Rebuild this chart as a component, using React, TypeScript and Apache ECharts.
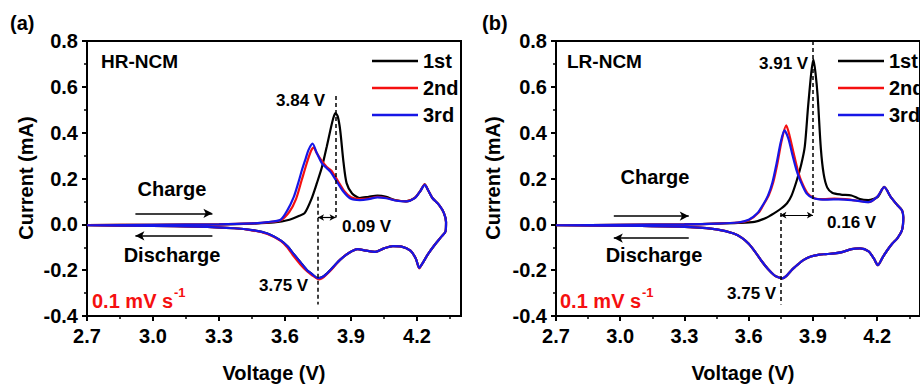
import { useEffect, useRef } from 'react';
import * as echarts from 'echarts';

type P = [number, number];

const X_MAJOR = [2.7, 3.0, 3.3, 3.6, 3.9, 4.2];
const X_MINOR = [2.85, 3.15, 3.45, 3.75, 4.05, 4.35];
const CYCLES = ['1st', '2nd', '3rd'];
const COLORS = ['#000000', '#f51010', '#1616e6'];

// Panel (a) HR-NCM
const HR_DIS: P[] = [
  [4.33, -0.03], [4.31, -0.055], [4.28, -0.09], [4.25, -0.13], [4.225, -0.17], [4.21, -0.19],
  [4.195, -0.15], [4.17, -0.115], [4.13, -0.097], [4.09, -0.095], [4.05, -0.105], [4.01, -0.12],
  [3.97, -0.115], [3.93, -0.108], [3.89, -0.125], [3.85, -0.155], [3.82, -0.185], [3.79, -0.215],
  [3.77, -0.23], [3.75, -0.235], [3.72, -0.215], [3.7, -0.2], [3.67, -0.165], [3.64, -0.13],
  [3.61, -0.095], [3.58, -0.07], [3.52, -0.04], [3.45, -0.025], [3.37, -0.017], [3.2, -0.01],
  [3.0, -0.007], [2.7, -0.004],
];
const HR_1ST: P[] = [
  [2.7, -0.003], [3.0, -0.002], [3.3, 0.0], [3.45, 0.003], [3.55, 0.008], [3.62, 0.02], [3.66, 0.035],
  [3.69, 0.05], [3.72, 0.11], [3.745, 0.18], [3.768, 0.25], [3.79, 0.34], [3.806, 0.41], [3.82, 0.465],
  [3.83, 0.485], [3.84, 0.47], [3.851, 0.41], [3.866, 0.27], [3.88, 0.18], [3.905, 0.135], [3.94, 0.115],
  [3.98, 0.12], [4.02, 0.125], [4.06, 0.12], [4.1, 0.106], [4.15, 0.1], [4.19, 0.115], [4.215, 0.145],
  [4.235, 0.175], [4.25, 0.15], [4.27, 0.115], [4.3, 0.085], [4.322, 0.05], [4.332, 0.01],
  ...HR_DIS,
];
const HR_2ND: P[] = [
  [2.7, -0.003], [3.0, -0.002], [3.3, 0.0], [3.45, 0.004], [3.53, 0.01], [3.58, 0.018], [3.62, 0.055],
  [3.65, 0.11], [3.675, 0.19], [3.7, 0.27], [3.718, 0.32], [3.73, 0.335], [3.745, 0.31], [3.765, 0.28],
  [3.79, 0.25], [3.81, 0.235], [3.84, 0.19], [3.87, 0.145], [3.9, 0.118], [3.94, 0.11], [3.98, 0.112],
  [4.02, 0.12], [4.06, 0.115], [4.1, 0.105], [4.15, 0.1], [4.19, 0.115], [4.215, 0.145], [4.235, 0.175],
  [4.25, 0.15], [4.27, 0.115], [4.3, 0.085], [4.322, 0.05], [4.332, 0.01],
  [4.33, -0.03], [4.31, -0.055], [4.28, -0.09], [4.25, -0.13], [4.225, -0.17], [4.21, -0.192],
  [4.195, -0.15], [4.17, -0.115], [4.13, -0.097], [4.09, -0.095], [4.05, -0.105], [4.01, -0.12],
  [3.97, -0.115], [3.93, -0.108], [3.89, -0.125], [3.85, -0.155], [3.82, -0.188], [3.79, -0.218],
  [3.77, -0.235], [3.755, -0.24], [3.72, -0.22], [3.7, -0.205], [3.67, -0.175], [3.64, -0.14],
  [3.61, -0.1], [3.58, -0.072], [3.52, -0.042], [3.45, -0.026], [3.37, -0.017], [3.2, -0.01],
  [3.0, -0.007], [2.7, -0.004],
];
const HR_3RD: P[] = [
  [2.7, -0.004], [3.0, -0.002], [3.3, 0.0], [3.45, 0.004], [3.52, 0.01], [3.58, 0.02], [3.61, 0.06],
  [3.64, 0.12], [3.66, 0.18], [3.677, 0.237], [3.695, 0.29], [3.707, 0.325], [3.725, 0.352],
  [3.745, 0.31], [3.768, 0.266], [3.79, 0.245], [3.806, 0.23], [3.836, 0.186], [3.866, 0.142],
  [3.897, 0.113], [3.94, 0.106], [3.98, 0.11], [4.02, 0.118], [4.06, 0.114], [4.1, 0.104], [4.15, 0.1],
  [4.19, 0.114], [4.215, 0.145], [4.235, 0.172], [4.25, 0.15], [4.27, 0.115], [4.3, 0.085],
  [4.322, 0.05], [4.332, 0.01],
  ...HR_DIS,
];

// Panel (b) LR-NCM
const LR_DIS: P[] = [
  [4.316, -0.025], [4.294, -0.061], [4.27, -0.085], [4.248, -0.112], [4.225, -0.145], [4.203, -0.178],
  [4.185, -0.15], [4.16, -0.118], [4.12, -0.105], [4.08, -0.108], [4.04, -0.12], [4.0, -0.127],
  [3.96, -0.13], [3.93, -0.132], [3.89, -0.14], [3.855, -0.156], [3.83, -0.175], [3.8, -0.2],
  [3.775, -0.226], [3.756, -0.236], [3.735, -0.23], [3.718, -0.221], [3.69, -0.195], [3.66, -0.16],
  [3.63, -0.12], [3.6, -0.085], [3.57, -0.06], [3.53, -0.04], [3.45, -0.022], [3.35, -0.013],
  [3.1, -0.007], [2.7, -0.004],
];
const LR_1ST: P[] = [
  [2.7, -0.004], [3.0, -0.002], [3.3, 0.0], [3.45, 0.003], [3.55, 0.006], [3.627, 0.011], [3.68, 0.028],
  [3.718, 0.048], [3.75, 0.068], [3.779, 0.092], [3.8, 0.125], [3.824, 0.19], [3.845, 0.26],
  [3.862, 0.34], [3.877, 0.51], [3.892, 0.66], [3.902, 0.72], [3.912, 0.66], [3.922, 0.56],
  [3.937, 0.33], [3.95, 0.22], [3.967, 0.16], [3.99, 0.138], [4.03, 0.13], [4.08, 0.126], [4.12, 0.11],
  [4.158, 0.106], [4.203, 0.12], [4.233, 0.164], [4.263, 0.12], [4.294, 0.084], [4.316, 0.062],
  [4.322, 0.03],
  ...LR_DIS,
];
const LR_2ND: P[] = [
  [2.7, -0.004], [3.0, -0.002], [3.3, 0.0], [3.45, 0.003], [3.55, 0.008], [3.6, 0.018], [3.645, 0.05],
  [3.675, 0.095], [3.695, 0.13], [3.715, 0.185], [3.735, 0.27], [3.755, 0.37], [3.775, 0.432],
  [3.79, 0.39], [3.81, 0.31], [3.828, 0.24], [3.845, 0.19], [3.875, 0.135], [3.91, 0.113], [3.95, 0.11],
  [4.0, 0.112], [4.05, 0.11], [4.1, 0.104], [4.158, 0.097], [4.2, 0.12], [4.233, 0.162], [4.263, 0.12],
  [4.294, 0.084], [4.316, 0.06], [4.322, 0.03],
  ...LR_DIS,
];
const LR_3RD: P[] = [
  [2.7, -0.004], [3.0, -0.002], [3.3, 0.0], [3.45, 0.003], [3.55, 0.008], [3.6, 0.02], [3.64, 0.048],
  [3.67, 0.09], [3.69, 0.125], [3.71, 0.18], [3.73, 0.265], [3.75, 0.36], [3.767, 0.41], [3.785, 0.375],
  [3.805, 0.3], [3.822, 0.24], [3.84, 0.193], [3.87, 0.135], [3.9, 0.115], [3.93, 0.109], [3.97, 0.108],
  [4.02, 0.109], [4.08, 0.106], [4.158, 0.097], [4.2, 0.12], [4.233, 0.162], [4.263, 0.12],
  [4.294, 0.084], [4.316, 0.06], [4.322, 0.03],
  ...LR_DIS,
];

const PANEL_DATA = [
  [HR_1ST, HR_2ND, HR_3RD],
  [LR_1ST, LR_2ND, LR_3RD],
];

// annotation positions in data units (V, mA)
const PEAK_V = [3.83, 3.9];
const PEAK_TOP = [0.56, 0.8];
const SPLIT_Y = [0.03, 0.04];
const VALLEY_V = [3.75, 3.748];
const VALLEY_TOP = [0.12, 0.05];
const ARROW_V = [[2.92, 3.27], [2.97, 3.32]];
const ARROW_I = [[0.048, -0.05], [0.036, -0.06]];

const FONT = 'Arial, "Liberation Sans", Helvetica, sans-serif';

export default function App() {
  const ref = useRef<HTMLDivElement>(null);
  useEffect(() => {
    if (!ref.current) return;
    const chart = echarts.init(ref.current, null, { renderer: 'svg' });

    const grids = [
      { left: 87, top: 41, width: 374, height: 275 },
      { left: 556, top: 41, width: 374, height: 275 },
    ].map((g) => ({ ...g, show: true, borderColor: '#000', borderWidth: 2, backgroundColor: 'transparent' }));

    const xAxes: any[] = [];
    const yAxes: any[] = [];
    const series: any[] = [];
    const labelStyle = { fontSize: 20, fontWeight: 'bold', color: '#000', fontFamily: FONT };

    [0, 1].forEach((p) => {
      xAxes.push({
        type: 'value', gridIndex: p, position: 'bottom', min: 2.7, max: 4.4, interval: 0.3,
        axisLine: { show: true, onZero: false, lineStyle: { color: '#000', width: 2 } },
        axisTick: { show: true, inside: false, length: 5, customValues: X_MAJOR, lineStyle: { color: '#000', width: 2 } },
        axisLabel: { ...labelStyle, customValues: X_MAJOR, margin: 10, formatter: (v: number) => v.toFixed(1) },
        splitLine: { show: false },
      });
      xAxes.push({
        type: 'value', gridIndex: p, position: 'bottom', min: 2.7, max: 4.4, interval: 0.3,
        axisLine: { show: false, onZero: false },
        axisTick: { show: true, inside: false, length: 3, customValues: X_MINOR, lineStyle: { color: '#000', width: 1.5 } },
        axisLabel: { show: false },
        splitLine: { show: false },
      });
      yAxes.push({
        type: 'value', gridIndex: p, min: -0.4, max: 0.8, interval: 0.2,
        axisLine: { show: true, onZero: false, lineStyle: { color: '#000', width: 2 } },
        axisTick: { show: true, inside: false, length: 5, lineStyle: { color: '#000', width: 2 } },
        minorTick: { show: true, splitNumber: 2, length: 3, lineStyle: { color: '#000', width: 1.5 } },
        axisLabel: { ...labelStyle, margin: 9, formatter: (v: number) => v.toFixed(1) },
        splitLine: { show: false },
      });

      PANEL_DATA[p].forEach((data, i) => {
        series.push({
          type: 'line', name: CYCLES[i], xAxisIndex: 2 * p, yAxisIndex: p, data,
          symbol: 'none', smooth: 0.25, lineStyle: { color: COLORS[i], width: 2.2 },
          itemStyle: { color: COLORS[i] }, z: 2 + i,
        });
      });

      const helper = (markLine: any) => ({
        type: 'line', xAxisIndex: 2 * p, yAxisIndex: p, data: [[2.7, 0]], symbol: 'none',
        lineStyle: { opacity: 0 }, silent: true, z: 10, markLine: { silent: true, label: { show: false }, ...markLine },
      });
      series.push(helper({
        symbol: ['none', 'none'],
        lineStyle: { color: '#000', width: 1.5, type: [4, 3] },
        data: [
          [{ coord: [PEAK_V[p], PEAK_TOP[p]] }, { coord: [PEAK_V[p], SPLIT_Y[p]] }],
          [{ coord: [VALLEY_V[p], VALLEY_TOP[p]] }, { coord: [VALLEY_V[p], -0.35] }],
        ],
      }));
      series.push(helper({
        symbol: ['arrow', 'arrow'], symbolSize: [5, 6],
        lineStyle: { color: '#000', width: 1.2, type: 'solid' },
        data: [[{ coord: [VALLEY_V[p], SPLIT_Y[p]] }, { coord: [PEAK_V[p], SPLIT_Y[p]] }]],
      }));
      series.push(helper({
        symbol: ['none', 'arrow'], symbolSize: [7, 9],
        lineStyle: { color: '#000', width: 1.5, type: 'solid' },
        data: [
          [{ coord: [ARROW_V[p][0], ARROW_I[p][0]] }, { coord: [ARROW_V[p][1], ARROW_I[p][0]] }],
          [{ coord: [ARROW_V[p][1], ARROW_I[p][1]] }, { coord: [ARROW_V[p][0], ARROW_I[p][1]] }],
        ],
      }));
    });

    const legends = [367, 833].map((left) => ({
      left, top: 46, orient: 'vertical', itemWidth: 46, itemHeight: 2.5, itemGap: 7, icon: 'rect',
      data: CYCLES, selectedMode: false,
      textStyle: { fontSize: 20, fontWeight: 'bold', color: '#000', fontFamily: FONT, lineHeight: 20 },
    }));

    const txt = (x: number, y: number, text: string, size = 20, extra: any = {}, color = '#000') => ({
      type: 'text', x, y, silent: true, z: 20, ...extra,
      style: { text, fill: color, font: `bold ${size}px ${FONT}`, align: 'left', verticalAlign: 'middle', ...(extra.style || {}) },
    });
    const center = { style: { align: 'center' } };
    const rot = { rotation: Math.PI / 2, style: { align: 'center' } };

    const graphic = [
      txt(10, 23, '(a)', 20),
      txt(482, 23, '(b)', 20),
      txt(26, 178, 'Current (mA)', 20, rot),
      txt(493, 178, 'Current (mA)', 20, rot),
      txt(274, 373, 'Voltage (V)', 20, center),
      txt(743, 373, 'Voltage (V)', 20, center),
      txt(101, 61, 'HR-NCM', 19),
      txt(567, 61, 'LR-NCM', 19),
      txt(276, 100, '3.84 V', 17),
      txt(342, 226, '0.09 V', 17),
      txt(259, 285, '3.75 V', 17),
      txt(759, 63, '3.91 V', 17),
      txt(827, 222, '0.16 V', 17),
      txt(727, 293, '3.75 V', 17),
      txt(172, 189, 'Charge', 20, center),
      txt(172, 255, 'Discharge', 20, center),
      txt(655, 177, 'Charge', 20, center),
      txt(654, 255, 'Discharge', 20, center),
      txt(92, 301, '0.1 mV s', 20, {}, '#f51010'),
      txt(174, 292, '-1', 13, {}, '#f51010'),
      txt(560, 301, '0.1 mV s', 20, {}, '#f51010'),
      txt(642, 292, '-1', 13, {}, '#f51010'),
    ];

    chart.setOption({
      animation: false,
      textStyle: { fontFamily: FONT },
      grid: grids,
      xAxis: xAxes,
      yAxis: yAxes,
      legend: legends,
      series,
      graphic,
    });
    return () => chart.dispose();
  }, []);
  return <div ref={ref} style={{ position: 'absolute', left: 0, top: 0, width: 920, height: 386, background: '#fff' }} />;
}
